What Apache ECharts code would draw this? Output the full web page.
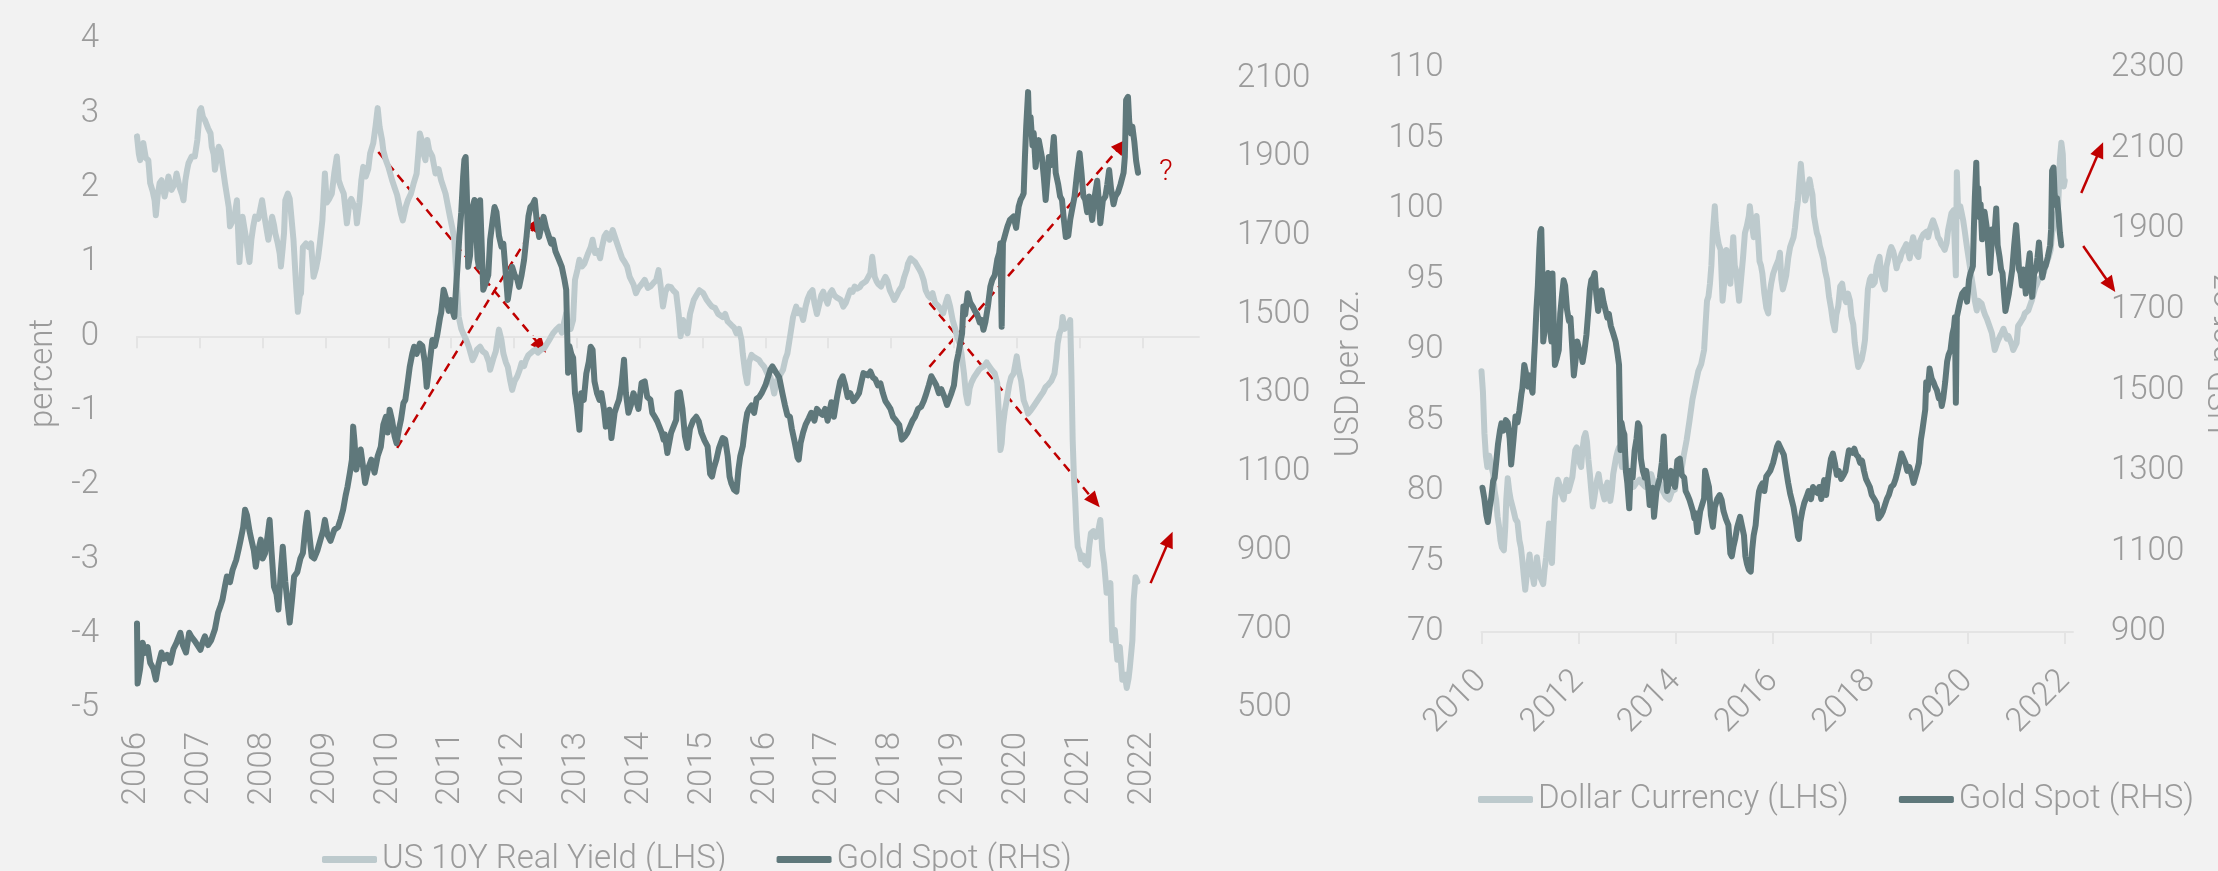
<!DOCTYPE html>
<html>
<head>
<meta charset="utf-8">
<script src="https://cdn.jsdelivr.net/npm/echarts@6/dist/echarts.min.js"></script>
<style>
html, body { margin: 0; padding: 0; background: #f2f2f2; }
#chart { width: 2218px; height: 871px; }
</style>
</head>
<body>
<div id="chart"></div>
<script>
// tick labels
const leftYearTicks = [2006, 2007, 2008, 2009, 2010, 2011, 2012, 2013, 2014, 2015, 2016, 2017, 2018, 2019, 2020, 2021, 2022];
const rightYearTicks = [2010, 2012, 2014, 2016, 2018, 2020, 2022];
const yieldTicks = [-5, -4, -3, -2, -1, 0, 1, 2, 3, 4];
const goldLeftTicks = [500, 700, 900, 1100, 1300, 1500, 1700, 1900, 2100];
const dollarTicks = [70, 75, 80, 85, 90, 95, 100, 105, 110];
const goldRightTicks = [900, 1100, 1300, 1500, 1700, 1900, 2100, 2300];

// series: [decimal year, value]
const realYield = [
  [2006.00, 2.69], [2006.03, 2.45], [2006.05, 2.37], [2006.08, 2.55], [2006.10, 2.60], [2006.14, 2.40],
  [2006.18, 2.37], [2006.21, 2.06], [2006.25, 1.95], [2006.28, 1.83], [2006.30, 1.63], [2006.33, 1.90],
  [2006.36, 2.06], [2006.39, 2.10], [2006.44, 1.88], [2006.47, 2.00], [2006.50, 2.15], [2006.55, 1.97],
  [2006.60, 2.05], [2006.63, 2.19], [2006.68, 2.00], [2006.72, 1.90], [2006.74, 1.83], [2006.77, 2.10],
  [2006.80, 2.25], [2006.82, 2.33], [2006.87, 2.42], [2006.92, 2.42], [2006.96, 2.64], [2007.00, 3.04],
  [2007.02, 3.07], [2007.05, 2.95], [2007.08, 2.91], [2007.13, 2.80], [2007.17, 2.73], [2007.19, 2.55],
  [2007.22, 2.45], [2007.24, 2.24], [2007.27, 2.40], [2007.30, 2.55], [2007.33, 2.50], [2007.36, 2.30],
  [2007.40, 2.06], [2007.43, 1.90], [2007.46, 1.74], [2007.48, 1.48], [2007.52, 1.55], [2007.55, 1.61],
  [2007.59, 1.83], [2007.61, 1.40], [2007.63, 1.00], [2007.66, 1.40], [2007.68, 1.61], [2007.71, 1.45],
  [2007.74, 1.30], [2007.77, 1.10], [2007.79, 1.00], [2007.82, 1.30], [2007.85, 1.48], [2007.88, 1.61],
  [2007.93, 1.58], [2007.96, 1.70], [2007.99, 1.83], [2008.03, 1.60], [2008.07, 1.40], [2008.09, 1.30],
  [2008.13, 1.50], [2008.15, 1.61], [2008.18, 1.50], [2008.20, 1.39], [2008.24, 1.25], [2008.27, 1.12],
  [2008.29, 0.94], [2008.32, 1.20], [2008.34, 1.39], [2008.36, 1.83], [2008.40, 1.92], [2008.43, 1.85],
  [2008.46, 1.83], [2008.49, 1.30], [2008.51, 1.00], [2008.53, 0.71], [2008.56, 0.33], [2008.59, 0.55],
  [2008.61, 0.58], [2008.64, 1.20], [2008.69, 1.25], [2008.73, 1.20], [2008.77, 1.25], [2008.81, 0.80],
  [2008.85, 0.92], [2008.88, 1.05], [2008.91, 1.25], [2008.95, 1.56], [2008.99, 2.19], [2009.02, 1.80],
  [2009.06, 1.85], [2009.10, 1.92], [2009.14, 2.20], [2009.18, 2.42], [2009.21, 2.10], [2009.25, 2.00],
  [2009.29, 1.92], [2009.34, 1.52], [2009.38, 1.80], [2009.41, 1.85], [2009.44, 1.83], [2009.48, 1.70],
  [2009.50, 1.52], [2009.54, 1.80], [2009.57, 2.10], [2009.60, 2.28], [2009.64, 2.15], [2009.68, 2.25],
  [2009.71, 2.46], [2009.76, 2.60], [2009.80, 2.85], [2009.83, 3.07], [2009.86, 2.82], [2009.90, 2.64],
  [2009.92, 2.50], [2009.96, 2.37], [2010.00, 2.28], [2010.06, 2.10], [2010.10, 2.00], [2010.14, 1.90],
  [2010.20, 1.65], [2010.23, 1.56], [2010.28, 1.75], [2010.31, 1.83], [2010.36, 1.92], [2010.40, 2.05],
  [2010.45, 2.19], [2010.48, 2.50], [2010.50, 2.73], [2010.53, 2.64], [2010.56, 2.45], [2010.59, 2.37],
  [2010.62, 2.64], [2010.65, 2.50], [2010.70, 2.42], [2010.75, 2.19], [2010.80, 2.25], [2010.84, 2.10],
  [2010.91, 1.92], [2010.98, 1.61], [2011.02, 1.45], [2011.05, 1.30], [2011.09, 0.71], [2011.12, 0.26],
  [2011.16, 0.10], [2011.19, 0.04], [2011.24, -0.05], [2011.28, -0.14], [2011.34, -0.32], [2011.38, -0.25],
  [2011.41, -0.18], [2011.46, -0.14], [2011.50, -0.20], [2011.55, -0.23], [2011.60, -0.35], [2011.62, -0.45],
  [2011.67, -0.30], [2011.71, -0.20], [2011.76, 0.09], [2011.80, -0.05], [2011.83, -0.23], [2011.87, -0.35],
  [2011.90, -0.41], [2011.94, -0.60], [2011.97, -0.72], [2012.01, -0.60], [2012.05, -0.54], [2012.09, -0.45],
  [2012.12, -0.36], [2012.16, -0.40], [2012.19, -0.32], [2012.23, -0.25], [2012.26, -0.23], [2012.30, -0.20],
  [2012.34, -0.18], [2012.38, -0.22], [2012.43, -0.18], [2012.48, -0.16], [2012.51, -0.14], [2012.56, -0.05],
  [2012.62, 0.04], [2012.67, 0.09], [2012.72, 0.13], [2012.76, 0.05], [2012.80, 0.20], [2012.83, 0.31],
  [2012.86, 0.15], [2012.90, 0.10], [2012.94, 0.22], [2012.97, 0.76], [2013.01, 0.90], [2013.04, 1.03],
  [2013.08, 0.94], [2013.12, 0.98], [2013.18, 1.12], [2013.22, 1.20], [2013.25, 1.30], [2013.29, 1.12],
  [2013.33, 1.15], [2013.37, 1.05], [2013.40, 1.20], [2013.44, 1.35], [2013.47, 1.39], [2013.52, 1.30],
  [2013.57, 1.43], [2013.60, 1.35], [2013.64, 1.25], [2013.68, 1.15], [2013.72, 1.05], [2013.76, 1.00],
  [2013.80, 0.94], [2013.84, 0.80], [2013.90, 0.70], [2013.94, 0.58], [2013.98, 0.65], [2014.03, 0.70],
  [2014.08, 0.76], [2014.13, 0.65], [2014.17, 0.67], [2014.22, 0.72], [2014.26, 0.75], [2014.30, 0.89],
  [2014.33, 0.70], [2014.37, 0.40], [2014.41, 0.60], [2014.45, 0.67], [2014.50, 0.66], [2014.53, 0.62],
  [2014.58, 0.58], [2014.62, 0.30], [2014.65, 0.00], [2014.69, 0.22], [2014.72, 0.12], [2014.76, 0.04],
  [2014.80, 0.30], [2014.86, 0.49], [2014.90, 0.55], [2014.95, 0.62], [2015.01, 0.58], [2015.06, 0.50],
  [2015.11, 0.44], [2015.15, 0.40], [2015.20, 0.38], [2015.25, 0.30], [2015.32, 0.26], [2015.36, 0.30],
  [2015.40, 0.20], [2015.46, 0.15], [2015.50, 0.12], [2015.54, 0.04], [2015.58, 0.10], [2015.62, -0.05],
  [2015.64, -0.23], [2015.68, -0.50], [2015.71, -0.63], [2015.74, -0.35], [2015.78, -0.25], [2015.82, -0.28],
  [2015.86, -0.30], [2015.90, -0.32], [2015.93, -0.36], [2015.98, -0.41], [2016.03, -0.50], [2016.08, -0.55],
  [2016.11, -0.65], [2016.14, -0.77], [2016.18, -0.60], [2016.22, -0.54], [2016.28, -0.45], [2016.32, -0.30],
  [2016.35, -0.23], [2016.40, 0.04], [2016.44, 0.26], [2016.49, 0.40], [2016.52, 0.31], [2016.56, 0.35],
  [2016.60, 0.22], [2016.64, 0.40], [2016.67, 0.50], [2016.71, 0.58], [2016.75, 0.62], [2016.78, 0.45],
  [2016.82, 0.30], [2016.85, 0.31], [2016.89, 0.55], [2016.92, 0.60], [2016.96, 0.50], [2016.99, 0.44],
  [2017.03, 0.58], [2017.06, 0.62], [2017.10, 0.55], [2017.14, 0.52], [2017.17, 0.50], [2017.20, 0.49],
  [2017.24, 0.40], [2017.28, 0.45], [2017.32, 0.55], [2017.35, 0.62], [2017.39, 0.60], [2017.42, 0.67],
  [2017.46, 0.64], [2017.50, 0.66], [2017.53, 0.70], [2017.56, 0.71], [2017.60, 0.74], [2017.63, 0.76],
  [2017.67, 0.85], [2017.70, 1.07], [2017.74, 0.80], [2017.77, 0.74], [2017.80, 0.70], [2017.84, 0.67],
  [2017.88, 0.75], [2017.91, 0.80], [2017.94, 0.75], [2017.98, 0.62], [2018.02, 0.55], [2018.05, 0.49],
  [2018.09, 0.55], [2018.13, 0.62], [2018.17, 0.67], [2018.21, 0.80], [2018.25, 0.90], [2018.27, 0.98],
  [2018.31, 1.05], [2018.34, 1.07], [2018.38, 1.00], [2018.41, 0.98], [2018.45, 0.90], [2018.48, 0.85],
  [2018.52, 0.75], [2018.55, 0.62], [2018.59, 0.55], [2018.62, 0.52], [2018.66, 0.58], [2018.70, 0.45],
  [2018.73, 0.44], [2018.76, 0.40], [2018.80, 0.35], [2018.83, 0.31], [2018.87, 0.45], [2018.90, 0.53],
  [2018.94, 0.40], [2018.98, 0.22], [2019.02, 0.10], [2019.05, 0.00], [2019.09, -0.10], [2019.12, -0.23],
  [2019.16, -0.50], [2019.19, -0.77], [2019.22, -0.90], [2019.25, -0.70], [2019.28, -0.62], [2019.32, -0.55],
  [2019.36, -0.50], [2019.40, -0.45], [2019.44, -0.42], [2019.48, -0.40], [2019.52, -0.35], [2019.56, -0.40],
  [2019.60, -0.45], [2019.65, -0.50], [2019.69, -0.63], [2019.72, -1.13], [2019.74, -1.53], [2019.76, -1.44],
  [2019.78, -1.20], [2019.81, -1.00], [2019.84, -0.86], [2019.88, -0.65], [2019.91, -0.55], [2019.95, -0.50],
  [2020.00, -0.27], [2020.03, -0.45], [2020.07, -0.60], [2020.11, -0.86], [2020.15, -0.95], [2020.18, -1.04],
  [2020.22, -1.00], [2020.26, -0.95], [2020.30, -0.90], [2020.34, -0.85], [2020.38, -0.80], [2020.42, -0.75],
  [2020.46, -0.68], [2020.50, -0.65], [2020.55, -0.60], [2020.60, -0.50], [2020.63, -0.30], [2020.65, -0.10],
  [2020.68, 0.04], [2020.71, 0.10], [2020.73, 0.26], [2020.76, 0.10], [2020.79, 0.12], [2020.82, 0.15],
  [2020.85, 0.22], [2020.87, -0.50], [2020.89, -1.40], [2020.91, -1.90], [2020.93, -2.20], [2020.95, -2.60],
  [2020.97, -2.83], [2021.00, -2.90], [2021.02, -3.00], [2021.06, -2.95], [2021.09, -3.05], [2021.13, -3.08],
  [2021.15, -2.85], [2021.18, -2.65], [2021.22, -2.62], [2021.26, -2.70], [2021.30, -2.60], [2021.33, -2.47],
  [2021.36, -2.87], [2021.39, -3.05], [2021.43, -3.45], [2021.46, -3.40], [2021.49, -3.32], [2021.52, -4.09],
  [2021.56, -3.95], [2021.60, -4.35], [2021.64, -4.18], [2021.68, -4.62], [2021.72, -4.55], [2021.75, -4.73],
  [2021.78, -4.60], [2021.80, -4.45], [2021.84, -4.09], [2021.86, -3.55], [2021.89, -3.24], [2021.92, -3.30]
];

const goldSpot = [
  [2006.00, 715], [2006.01, 562], [2006.05, 600], [2006.09, 666], [2006.13, 640], [2006.17, 655],
  [2006.21, 615], [2006.26, 600], [2006.30, 572], [2006.34, 610], [2006.39, 641], [2006.43, 625],
  [2006.48, 635], [2006.53, 615], [2006.58, 650], [2006.63, 666], [2006.69, 691], [2006.73, 660],
  [2006.78, 641], [2006.83, 691], [2006.87, 680], [2006.92, 670], [2007.01, 648], [2007.05, 670],
  [2007.08, 682], [2007.13, 660], [2007.18, 672], [2007.24, 700], [2007.29, 742], [2007.33, 760],
  [2007.36, 775], [2007.40, 810], [2007.43, 834], [2007.48, 820], [2007.52, 850], [2007.58, 877],
  [2007.62, 905], [2007.65, 928], [2007.69, 960], [2007.72, 1004], [2007.75, 990], [2007.79, 950],
  [2007.82, 928], [2007.86, 900], [2007.89, 859], [2007.93, 900], [2007.97, 928], [2008.00, 880],
  [2008.04, 894], [2008.08, 940], [2008.11, 978], [2008.14, 900], [2008.18, 808], [2008.22, 790],
  [2008.25, 750], [2008.29, 850], [2008.32, 910], [2008.36, 820], [2008.40, 760], [2008.43, 717],
  [2008.47, 780], [2008.50, 834], [2008.55, 845], [2008.60, 880], [2008.64, 894], [2008.68, 960],
  [2008.71, 996], [2008.75, 930], [2008.78, 885], [2008.82, 880], [2008.87, 900], [2008.92, 928],
  [2008.96, 950], [2008.99, 978], [2009.03, 940], [2009.08, 925], [2009.14, 953], [2009.20, 960],
  [2009.24, 980], [2009.28, 1004], [2009.32, 1040], [2009.35, 1062], [2009.39, 1100], [2009.42, 1131],
  [2009.44, 1215], [2009.46, 1180], [2009.49, 1106], [2009.53, 1140], [2009.56, 1157], [2009.60, 1110],
  [2009.63, 1072], [2009.68, 1110], [2009.73, 1131], [2009.78, 1098], [2009.83, 1140], [2009.88, 1164],
  [2009.92, 1220], [2009.96, 1240], [2009.99, 1200], [2010.02, 1258], [2010.06, 1230], [2010.10, 1190],
  [2010.13, 1173], [2010.17, 1210], [2010.20, 1232], [2010.24, 1275], [2010.27, 1283], [2010.31, 1330],
  [2010.34, 1367], [2010.38, 1400], [2010.41, 1418], [2010.45, 1400], [2010.50, 1426], [2010.54, 1420],
  [2010.58, 1380], [2010.61, 1316], [2010.63, 1340], [2010.66, 1380], [2010.70, 1435], [2010.74, 1420],
  [2010.78, 1450], [2010.82, 1490], [2010.84, 1504], [2010.88, 1563], [2010.92, 1540], [2010.96, 1509],
  [2010.99, 1537], [2011.02, 1510], [2011.05, 1494], [2011.08, 1575], [2011.10, 1620], [2011.13, 1700],
  [2011.16, 1760], [2011.19, 1850], [2011.21, 1893], [2011.23, 1900], [2011.25, 1800], [2011.27, 1621],
  [2011.30, 1650], [2011.34, 1773], [2011.37, 1791], [2011.40, 1707], [2011.42, 1641], [2011.44, 1621],
  [2011.46, 1790], [2011.48, 1700], [2011.51, 1563], [2011.55, 1580], [2011.59, 1600], [2011.62, 1690],
  [2011.66, 1740], [2011.69, 1773], [2011.72, 1760], [2011.76, 1700], [2011.80, 1672], [2011.83, 1680],
  [2011.87, 1600], [2011.90, 1537], [2011.94, 1580], [2011.97, 1621], [2012.01, 1600], [2012.05, 1590],
  [2012.08, 1570], [2012.12, 1600], [2012.16, 1639], [2012.20, 1700], [2012.23, 1750], [2012.26, 1773],
  [2012.30, 1780], [2012.33, 1791], [2012.36, 1740], [2012.40, 1697], [2012.43, 1720], [2012.47, 1748],
  [2012.51, 1720], [2012.55, 1700], [2012.59, 1680], [2012.62, 1690], [2012.66, 1660], [2012.71, 1641],
  [2012.76, 1621], [2012.80, 1590], [2012.83, 1563], [2012.86, 1352], [2012.88, 1420], [2012.91, 1400],
  [2012.94, 1390], [2012.97, 1300], [2013.00, 1270], [2013.04, 1207], [2013.07, 1300], [2013.11, 1283],
  [2013.15, 1350], [2013.19, 1380], [2013.22, 1418], [2013.25, 1410], [2013.28, 1330], [2013.32, 1300],
  [2013.36, 1283], [2013.39, 1300], [2013.43, 1260], [2013.46, 1215], [2013.49, 1211], [2013.52, 1258],
  [2013.55, 1186], [2013.60, 1250], [2013.64, 1270], [2013.67, 1283], [2013.71, 1320], [2013.73, 1352],
  [2013.75, 1385], [2013.78, 1300], [2013.82, 1250], [2013.86, 1270], [2013.90, 1300], [2013.94, 1283],
  [2013.98, 1260], [2014.03, 1326], [2014.08, 1330], [2014.12, 1290], [2014.17, 1283], [2014.20, 1250],
  [2014.24, 1240], [2014.28, 1228], [2014.31, 1225], [2014.35, 1200], [2014.38, 1182], [2014.40, 1195],
  [2014.44, 1148], [2014.46, 1145], [2014.50, 1200], [2014.53, 1199], [2014.58, 1232], [2014.60, 1300],
  [2014.64, 1302], [2014.68, 1260], [2014.72, 1190], [2014.76, 1161], [2014.80, 1210], [2014.85, 1230],
  [2014.90, 1240], [2014.94, 1228], [2014.98, 1200], [2015.03, 1180], [2015.08, 1165], [2015.12, 1095],
  [2015.15, 1088], [2015.18, 1110], [2015.22, 1131], [2015.26, 1160], [2015.29, 1173], [2015.32, 1186],
  [2015.36, 1182], [2015.40, 1140], [2015.43, 1088], [2015.46, 1070], [2015.50, 1055], [2015.54, 1050],
  [2015.57, 1105], [2015.60, 1140], [2015.64, 1165], [2015.68, 1220], [2015.71, 1249], [2015.74, 1260],
  [2015.78, 1269], [2015.82, 1250], [2015.86, 1286], [2015.90, 1290], [2015.94, 1300], [2016.00, 1320],
  [2016.04, 1340], [2016.08, 1360], [2016.11, 1368], [2016.14, 1365], [2016.18, 1350], [2016.22, 1340],
  [2016.27, 1300], [2016.31, 1270], [2016.35, 1244], [2016.39, 1240], [2016.42, 1210], [2016.46, 1180],
  [2016.49, 1156], [2016.51, 1137], [2016.53, 1131], [2016.56, 1173], [2016.60, 1200], [2016.64, 1220],
  [2016.69, 1236], [2016.73, 1250], [2016.78, 1230], [2016.82, 1260], [2016.87, 1250], [2016.91, 1245],
  [2016.95, 1260], [2016.99, 1230], [2017.05, 1277], [2017.09, 1240], [2017.14, 1290], [2017.19, 1330],
  [2017.23, 1343], [2017.27, 1320], [2017.31, 1290], [2017.35, 1300], [2017.40, 1280], [2017.45, 1290],
  [2017.49, 1300], [2017.53, 1330], [2017.56, 1351], [2017.59, 1352], [2017.63, 1345], [2017.67, 1355],
  [2017.71, 1340], [2017.75, 1335], [2017.79, 1320], [2017.83, 1325], [2017.87, 1300], [2017.91, 1280],
  [2017.95, 1270], [2017.99, 1260], [2018.03, 1240], [2018.08, 1230], [2018.13, 1219], [2018.17, 1182],
  [2018.19, 1178], [2018.22, 1190], [2018.26, 1200], [2018.30, 1215], [2018.34, 1230], [2018.38, 1240],
  [2018.43, 1260], [2018.48, 1266], [2018.52, 1280], [2018.55, 1294], [2018.60, 1320], [2018.64, 1343],
  [2018.67, 1340], [2018.72, 1320], [2018.76, 1300], [2018.80, 1310], [2018.85, 1290], [2018.89, 1270],
  [2018.92, 1269], [2018.96, 1300], [2019.00, 1320], [2019.04, 1377], [2019.07, 1400], [2019.10, 1426],
  [2019.13, 1452], [2019.15, 1520], [2019.18, 1500], [2019.22, 1554], [2019.26, 1530], [2019.30, 1520],
  [2019.33, 1510], [2019.37, 1500], [2019.41, 1480], [2019.44, 1486], [2019.47, 1461], [2019.50, 1480],
  [2019.54, 1520], [2019.58, 1571], [2019.61, 1588], [2019.65, 1600], [2019.69, 1640], [2019.72, 1656],
  [2019.74, 1681], [2019.76, 1469], [2019.78, 1682], [2019.82, 1706], [2019.85, 1723], [2019.89, 1740],
  [2019.95, 1749], [2019.99, 1720], [2020.03, 1774], [2020.06, 1791], [2020.09, 1800], [2020.11, 1808],
  [2020.13, 1900], [2020.15, 1977], [2020.18, 2065], [2020.20, 1960], [2020.22, 2002], [2020.25, 1930],
  [2020.27, 1961], [2020.30, 1875], [2020.33, 1920], [2020.35, 1943], [2020.40, 1900], [2020.43, 1850],
  [2020.46, 1791], [2020.49, 1850], [2020.51, 1900], [2020.55, 1880], [2020.59, 1951], [2020.62, 1860],
  [2020.66, 1830], [2020.69, 1800], [2020.72, 1791], [2020.75, 1740], [2020.78, 1697], [2020.82, 1700],
  [2020.85, 1740], [2020.88, 1766], [2020.92, 1800], [2020.96, 1860], [2021.00, 1910], [2021.03, 1860],
  [2021.06, 1800], [2021.09, 1791], [2021.12, 1760], [2021.15, 1800], [2021.20, 1740], [2021.24, 1800],
  [2021.28, 1840], [2021.31, 1780], [2021.33, 1732], [2021.37, 1790], [2021.41, 1800], [2021.44, 1830],
  [2021.47, 1867], [2021.50, 1820], [2021.54, 1780], [2021.57, 1800], [2021.61, 1810], [2021.65, 1830],
  [2021.70, 1860], [2021.72, 1900], [2021.74, 2045], [2021.77, 2053], [2021.79, 1990], [2021.82, 1960],
  [2021.84, 1977], [2021.87, 1940], [2021.90, 1890], [2021.93, 1860]
];

const dollarIndex = [
  [2010.00, 88.5], [2010.03, 87.0], [2010.06, 84.1], [2010.09, 82.5], [2010.12, 81.7], [2010.16, 82.5],
  [2010.20, 81.8], [2010.24, 81.2], [2010.27, 80.0], [2010.30, 79.4], [2010.33, 78.2], [2010.36, 77.5],
  [2010.39, 76.5], [2010.42, 76.0], [2010.46, 75.8], [2010.49, 77.5], [2010.51, 79.4], [2010.54, 80.9],
  [2010.57, 80.0], [2010.60, 79.4], [2010.66, 78.6], [2010.70, 78.0], [2010.74, 77.8], [2010.78, 76.5],
  [2010.81, 76.0], [2010.84, 75.1], [2010.87, 74.0], [2010.90, 73.0], [2010.93, 74.0], [2010.96, 74.6],
  [2010.99, 75.5], [2011.02, 74.2], [2011.05, 74.0], [2011.08, 73.4], [2011.11, 74.5], [2011.14, 75.3],
  [2011.18, 74.2], [2011.22, 73.8], [2011.27, 73.4], [2011.30, 74.5], [2011.33, 75.3], [2011.36, 76.5],
  [2011.39, 77.7], [2011.42, 76.0], [2011.45, 74.9], [2011.48, 77.5], [2011.51, 79.4], [2011.54, 80.2],
  [2011.57, 80.8], [2011.61, 80.4], [2011.65, 79.8], [2011.69, 79.4], [2011.72, 80.2], [2011.75, 80.8],
  [2011.79, 80.0], [2011.83, 80.5], [2011.87, 81.0], [2011.90, 82.0], [2011.93, 82.9], [2011.96, 83.1],
  [2011.99, 82.5], [2012.02, 82.0], [2012.05, 81.7], [2012.08, 83.0], [2012.11, 83.8], [2012.14, 84.1],
  [2012.17, 83.5], [2012.20, 82.2], [2012.23, 81.2], [2012.26, 80.0], [2012.29, 78.9], [2012.32, 79.5],
  [2012.35, 80.2], [2012.38, 80.8], [2012.41, 81.2], [2012.44, 80.5], [2012.47, 80.3], [2012.50, 79.8],
  [2012.53, 79.4], [2012.56, 80.2], [2012.59, 80.6], [2012.62, 79.9], [2012.65, 79.3], [2012.68, 80.0],
  [2012.71, 81.2], [2012.74, 81.8], [2012.77, 82.4], [2012.80, 82.8], [2012.83, 83.1], [2012.86, 82.3],
  [2012.89, 81.7], [2012.92, 82.3], [2012.95, 82.6], [2012.98, 81.8], [2013.01, 81.0], [2013.07, 80.6],
  [2013.13, 80.3], [2013.19, 80.6], [2013.25, 80.8], [2013.31, 80.5], [2013.37, 80.3], [2013.43, 80.8],
  [2013.49, 81.2], [2013.55, 80.5], [2013.61, 80.3], [2013.67, 80.6], [2013.73, 80.0], [2013.79, 79.6],
  [2013.86, 79.4], [2013.92, 80.0], [2013.98, 80.1], [2014.04, 81.7], [2014.10, 81.2], [2014.16, 82.5],
  [2014.22, 83.6], [2014.28, 85.0], [2014.34, 86.5], [2014.40, 87.5], [2014.46, 88.5], [2014.52, 89.0],
  [2014.58, 90.0], [2014.61, 91.8], [2014.64, 93.5], [2014.67, 93.8], [2014.70, 94.7], [2014.73, 96.0],
  [2014.76, 98.3], [2014.80, 100.2], [2014.82, 99.0], [2014.84, 98.3], [2014.88, 97.5], [2014.92, 97.1],
  [2014.96, 93.5], [2015.00, 95.0], [2015.04, 97.1], [2015.08, 96.0], [2015.12, 94.7], [2015.15, 96.5],
  [2015.18, 98.0], [2015.21, 96.0], [2015.24, 95.6], [2015.27, 94.5], [2015.30, 93.5], [2015.34, 95.0],
  [2015.38, 96.5], [2015.42, 98.3], [2015.46, 98.8], [2015.50, 99.5], [2015.52, 100.2], [2015.56, 99.0],
  [2015.60, 98.0], [2015.63, 99.0], [2015.66, 99.5], [2015.69, 98.0], [2015.72, 96.3], [2015.75, 96.0],
  [2015.78, 95.4], [2015.82, 94.0], [2015.86, 93.0], [2015.90, 92.6], [2015.93, 94.0], [2015.96, 94.7],
  [2016.00, 95.4], [2016.04, 95.8], [2016.08, 95.9], [2016.11, 96.4], [2016.14, 96.9], [2016.17, 95.0],
  [2016.20, 94.3], [2016.23, 94.7], [2016.27, 95.3], [2016.31, 96.5], [2016.35, 97.3], [2016.39, 97.3],
  [2016.42, 98.0], [2016.45, 98.7], [2016.48, 99.8], [2016.51, 100.6], [2016.54, 102.0], [2016.57, 103.2],
  [2016.60, 102.0], [2016.63, 101.6], [2016.66, 100.6], [2016.69, 100.6], [2016.72, 101.5], [2016.75, 102.1],
  [2016.78, 101.5], [2016.81, 101.0], [2016.84, 99.5], [2016.87, 99.4], [2016.90, 98.3], [2016.93, 98.0],
  [2016.96, 97.4], [2016.99, 97.5], [2017.03, 96.5], [2017.07, 95.6], [2017.11, 95.0], [2017.15, 93.8],
  [2017.19, 93.0], [2017.23, 92.0], [2017.27, 91.4], [2017.30, 92.5], [2017.34, 93.1], [2017.38, 94.5],
  [2017.42, 94.7], [2017.46, 93.8], [2017.50, 93.4], [2017.54, 94.0], [2017.58, 93.5], [2017.61, 92.4],
  [2017.65, 91.8], [2017.68, 90.5], [2017.72, 89.5], [2017.75, 88.8], [2017.79, 89.1], [2017.82, 89.3],
  [2017.86, 90.0], [2017.89, 90.7], [2017.92, 92.5], [2017.95, 94.3], [2017.99, 95.0], [2018.02, 95.2],
  [2018.05, 94.6], [2018.09, 94.8], [2018.13, 95.9], [2018.16, 96.3], [2018.19, 96.6], [2018.23, 95.2],
  [2018.27, 94.6], [2018.30, 94.3], [2018.33, 95.9], [2018.37, 96.5], [2018.40, 97.0], [2018.43, 97.3],
  [2018.47, 97.0], [2018.50, 96.6], [2018.54, 95.8], [2018.57, 96.2], [2018.61, 96.4], [2018.64, 96.8],
  [2018.68, 97.1], [2018.71, 97.3], [2018.74, 97.5], [2018.78, 97.6], [2018.81, 96.5], [2018.85, 97.5],
  [2018.88, 98.0], [2018.92, 97.4], [2018.95, 96.8], [2018.99, 96.6], [2019.02, 97.7], [2019.06, 98.0],
  [2019.09, 98.2], [2019.12, 98.3], [2019.16, 98.4], [2019.19, 98.0], [2019.23, 98.6], [2019.26, 98.9],
  [2019.29, 99.2], [2019.32, 98.9], [2019.36, 98.5], [2019.39, 98.0], [2019.43, 97.8], [2019.46, 97.5],
  [2019.50, 97.3], [2019.53, 97.1], [2019.57, 97.6], [2019.60, 98.5], [2019.64, 99.2], [2019.67, 99.7],
  [2019.71, 99.9], [2019.74, 99.9], [2019.76, 95.3], [2019.78, 102.6], [2019.81, 99.5], [2019.85, 100.2],
  [2019.88, 99.7], [2019.91, 99.2], [2019.94, 98.5], [2019.98, 97.5], [2020.01, 96.8], [2020.05, 95.9],
  [2020.08, 95.2], [2020.12, 94.3], [2020.15, 93.5], [2020.19, 92.8], [2020.22, 93.5], [2020.26, 93.6],
  [2020.29, 93.3], [2020.33, 92.8], [2020.36, 92.5], [2020.40, 92.2], [2020.43, 91.9], [2020.47, 91.5],
  [2020.50, 91.2], [2020.53, 90.6], [2020.56, 90.0], [2020.60, 90.4], [2020.63, 90.7], [2020.67, 91.0],
  [2020.70, 91.2], [2020.74, 91.5], [2020.77, 91.2], [2020.81, 90.8], [2020.84, 91.0], [2020.87, 90.9],
  [2020.91, 90.4], [2020.94, 90.0], [2020.97, 90.0], [2021.01, 90.5], [2021.04, 91.7], [2021.08, 91.9],
  [2021.11, 91.8], [2021.15, 92.3], [2021.18, 92.6], [2021.22, 92.6], [2021.25, 92.8], [2021.29, 93.2],
  [2021.32, 93.5], [2021.36, 94.0], [2021.39, 94.4], [2021.43, 94.7], [2021.46, 95.0], [2021.50, 95.0],
  [2021.53, 95.2], [2021.57, 95.5], [2021.60, 95.9], [2021.64, 96.3], [2021.67, 96.6], [2021.71, 97.1],
  [2021.74, 98.3], [2021.78, 98.8], [2021.82, 99.5], [2021.86, 99.9], [2021.88, 101.5], [2021.90, 103.5],
  [2021.93, 104.7], [2021.96, 103.9], [2021.98, 101.6], [2022.00, 102.0]
];

// annotations, in data units of each panel (yield axis on the left, gold axis on the right)
const leftArrows = [
  { from: [2009.84, 2.48], to: [2012.51, -0.22], dashed: true },
  { from: [2010.14, -1.50], to: [2012.42, 1.61], dashed: true },
  { from: [2018.61, -0.41], to: [2021.75, 2.65], dashed: true },
  { from: [2018.61, 0.45], to: [2021.32, -2.30], dashed: true },
  { from: [2022.13, -3.32], to: [2022.48, -2.63], dashed: false }
];
const rightArrows = [
  { from: [2022.34, 1990], to: [2022.79, 2116], dashed: false },
  { from: [2022.38, 1858], to: [2023.04, 1744], dashed: false }
];
const questionMark = [2022.37, 2.21];

const GREY = '#9b9b9b';
const LIGHT = '#bdcacd';
const DARK = '#5f787b';
const RED = '#c00000';
const AXIS = '#e4e4e4';
const FONT = 'Roboto';

const txt = { color: GREY, fontFamily: FONT, fontWeight: 300, fontSize: 33 };
const plain = v => String(v);

const lineSeries = (name, data, xi, yi, color) => ({
    name,
    type: 'line',
    xAxisIndex: xi,
    yAxisIndex: yi,
    data,
    showSymbol: false,
    symbol: 'none',
    silent: true,
    lineStyle: { color, width: 6, cap: 'round', join: 'round' },
    itemStyle: { color },
    emphasis: { disabled: true }
});

const hiddenY = {
    type: 'value',
    axisLine: { show: false },
    axisTick: { show: false },
    splitLine: { show: false },
    nameLocation: 'middle',
    nameRotate: 90,
    nameTextStyle: txt
};

const chart = echarts.init(document.getElementById('chart'));

chart.setOption({
    backgroundColor: '#f2f2f2',
    animation: false,
    grid: [
        { left: 137, top: 39, width: 1062, height: 669, containLabel: false, outerBoundsMode: 'none' },
        { left: 1481.5, top: 68, width: 591.5, height: 564, containLabel: false, outerBoundsMode: 'none' }
    ],
    legend: [
        {
            data: ['US 10Y Real Yield (LHS)', 'Gold Spot (RHS)'],
            left: 322, top: 843, padding: 0,
            icon: 'roundRect', itemWidth: 55, itemHeight: 7, itemGap: 50,
            textStyle: txt, selectedMode: false
        },
        {
            data: ['Dollar Currency (LHS)', 'Gold Spot (RHS)'],
            left: 1478, top: 783, padding: 0,
            icon: 'roundRect', itemWidth: 55, itemHeight: 7, itemGap: 50,
            textStyle: txt, selectedMode: false
        }
    ],
    xAxis: [
        {
            gridIndex: 0, type: 'value', min: 2006, max: 2022.9, position: 'bottom',
            axisLine: { onZero: true, lineStyle: { color: AXIS, width: 2 } },
            axisTick: { show: true, length: 12, lineStyle: { color: AXIS, width: 2 }, customValues: leftYearTicks },
            axisLabel: { show: false },
            splitLine: { show: false }
        },
        {
            gridIndex: 0, type: 'value', min: 2006, max: 2022.9, position: 'bottom',
            axisLine: { show: false, onZero: false },
            axisTick: { show: false },
            axisLabel: { ...txt, rotate: 90, margin: 24, customValues: leftYearTicks, formatter: plain },
            splitLine: { show: false }
        },
        {
            gridIndex: 1, type: 'value', min: 2010, max: 2022.17, position: 'bottom',
            axisLine: { onZero: false, lineStyle: { color: AXIS, width: 2 } },
            axisTick: { show: true, length: 12, lineStyle: { color: AXIS, width: 2 }, customValues: rightYearTicks },
            axisLabel: { ...txt, rotate: 45, margin: 44, customValues: rightYearTicks, formatter: plain },
            splitLine: { show: false }
        }
    ],
    yAxis: [
        {
            ...hiddenY, gridIndex: 0, min: -5, max: 4, position: 'left',
            name: 'percent', nameGap: 77,
            axisLabel: { ...txt, margin: 38, customValues: yieldTicks, formatter: plain }
        },
        {
            ...hiddenY, gridIndex: 0, min: 500, max: 2200, position: 'right',
            name: 'USD per oz.', nameGap: 134,
            axisLabel: { ...txt, margin: 38, customValues: goldLeftTicks, formatter: plain }
        },
        {
            ...hiddenY, gridIndex: 1, min: 70, max: 110, position: 'left',
            axisLabel: { ...txt, margin: 38, customValues: dollarTicks, formatter: plain }
        },
        {
            ...hiddenY, gridIndex: 1, min: 900, max: 2300, position: 'right',
            name: 'USD per oz.', nameGap: 134,
            axisLabel: { ...txt, margin: 38, customValues: goldRightTicks, formatter: plain }
        }
    ],
    series: [
        lineSeries('US 10Y Real Yield (LHS)', realYield, 0, 0, LIGHT),
        lineSeries('Gold Spot (RHS)', goldSpot, 0, 1, DARK),
        lineSeries('Dollar Currency (LHS)', dollarIndex, 2, 2, LIGHT),
        lineSeries('Gold Spot (RHS)', goldSpot.filter(p => p[0] >= 2010), 2, 3, DARK)
    ]
});

// red arrows placed through the axes' own scales
const arrowShapes = (a, b, dashed) => {
    const dx = b[0] - a[0], dy = b[1] - a[1];
    const len = Math.hypot(dx, dy);
    const ux = dx / len, uy = dy / len;
    const head = 16, half = 7;
    const bx = b[0] - ux * head, by = b[1] - uy * head;
    return [
        {
            type: 'line', silent: true,
            shape: { x1: a[0], y1: a[1], x2: bx + ux * 2, y2: by + uy * 2 },
            style: { stroke: RED, lineWidth: 2.5, lineDash: dashed ? [9, 6] : null }
        },
        {
            type: 'polygon', silent: true,
            shape: { points: [[b[0], b[1]], [bx - uy * half, by + ux * half], [bx + uy * half, by - ux * half]] },
            style: { fill: RED }
        }
    ];
};

const leftFinder = { xAxisIndex: 0, yAxisIndex: 0 };
const rightFinder = { xAxisIndex: 2, yAxisIndex: 3 };
let graphics = [];
leftArrows.forEach(d => {
    graphics = graphics.concat(arrowShapes(chart.convertToPixel(leftFinder, d.from), chart.convertToPixel(leftFinder, d.to), d.dashed));
});
rightArrows.forEach(d => {
    graphics = graphics.concat(arrowShapes(chart.convertToPixel(rightFinder, d.from), chart.convertToPixel(rightFinder, d.to), d.dashed));
});
const q = chart.convertToPixel(leftFinder, questionMark);
graphics.push({
    type: 'text', silent: true, x: q[0], y: q[1],
    style: { text: '?', fill: RED, font: '300 30px Roboto', align: 'center', verticalAlign: 'middle' }
});

chart.setOption({ graphic: graphics });
</script>
</body>
</html>
